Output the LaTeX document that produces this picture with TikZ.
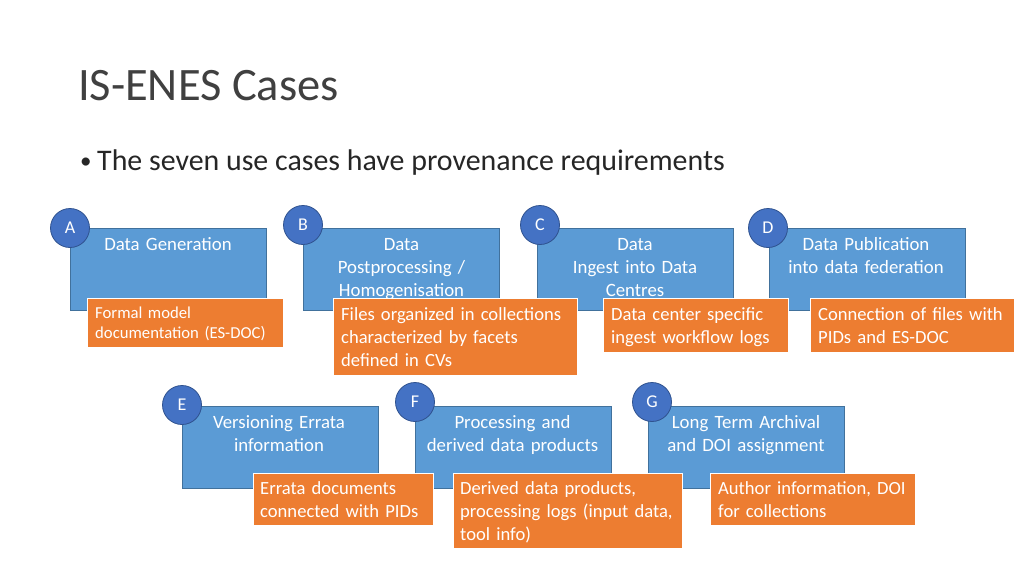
\documentclass[tikz,border=0pt]{standalone}
\usepackage{fontspec}
\setmainfont{Carlito}
\usetikzlibrary{calc}
\definecolor{boxblue}{HTML}{5B9BD5}
\definecolor{boxblueline}{HTML}{41719C}
\definecolor{circblue}{HTML}{4472C4}
\definecolor{circline}{HTML}{2F528F}
\definecolor{boxorange}{HTML}{ED7D31}
\definecolor{titlegray}{HTML}{404040}
\definecolor{bodytext}{HTML}{262626}
\begin{document}
\begin{tikzpicture}[x=1pt,y=-1pt,
 bluebox/.style={draw=boxblueline, line width=0.9pt, fill=boxblue, anchor=north west, inner sep=0, minimum width=196pt, minimum height=82pt},
 bluetext/.style={text=white, font=\fontsize{18.8}{23}\selectfont, align=center, text width=220pt, anchor=base, inner sep=0},
 orangebox/.style={draw=white, line width=1.2pt, fill=boxorange, anchor=north west, inner sep=0},
 orangetext/.style={text=white, font=\fontsize{18.6}{23}\selectfont, align=left, text width=240pt, anchor=base west, inner sep=0},
 smallorangetext/.style={orangetext, font=\fontsize{16.7}{20}\selectfont},
 badge/.style={circle, draw=circline, line width=0.8pt, fill=circblue, minimum size=39pt, inner sep=0, text=white, font=\fontsize{18}{20}\selectfont},
]
\useasboundingbox[fill=white] (0,0) rectangle (1024,576);

% title and bullet
\node[anchor=base west, inner sep=0, font=\fontsize{46.5}{56}\selectfont, text=titlegray] (title) at (78,100) {IS-ENES Cases};
\node[anchor=base west, inner sep=0, font=\fontsize{23}{28}\selectfont, text=bodytext] (bul) at (80,168) {\textbullet};
\node[anchor=base west, inner sep=0, font=\fontsize{29.9}{36}\selectfont, text=bodytext] (lead) at (97,170) {The seven use cases have provenance requirements};

% blue boxes
\node[bluebox] (bA) at (70,228) {};
\node[bluebox] (bB) at (303,228) {};
\node[bluebox] (bC) at (537,228) {};
\node[bluebox] (bD) at (769,228) {};
\node[bluebox] (bE) at (182,406) {};
\node[bluebox] (bF) at (415,406) {};
\node[bluebox] (bG) at (648,406) {};

% badges
\node[badge] (cA) at (70,228) {A};
\node[badge] (cB) at (303,225) {B};
\node[badge] (cC) at (540,225) {C};
\node[badge] (cD) at (768,228) {D};
\node[badge] (cE) at (182,405) {E};
\node[badge] (cF) at (415,402) {F};
\node[badge] (cG) at (652,402) {G};

% blue texts
\node[bluetext] (tA) at (168,250) {Data Generation};
\node[bluetext] (tB) at (401.5,250) {Data\\Postprocessing /\\Homogenisation};
\node[bluetext] (tC) at (635,250) {Data\\Ingest into Data\\Centres};
\node[bluetext] (tD) at (866,250) {Data Publication\\into data federation};
\node[bluetext] (tE) at (279,428) {Versioning Errata\\information};
\node[bluetext] (tF) at (512.5,428) {Processing and\\derived data products};
\node[bluetext] (tG) at (746,428) {Long Term Archival\\and DOI assignment};

% orange boxes
\node[orangebox, minimum width=196pt, minimum height=49pt] (oA) at (87,298) {};
\node[orangebox, minimum width=244pt, minimum height=77pt] (oB) at (333,298) {};
\node[orangebox, minimum width=185pt, minimum height=54pt] (oC) at (603,298) {};
\node[orangebox, minimum width=204pt, minimum height=54pt] (oD) at (810,298) {};
\node[orangebox, minimum width=180pt, minimum height=52pt] (oE) at (253,473) {};
\node[orangebox, minimum width=229pt, minimum height=75pt] (oF) at (453,473) {};
\node[orangebox, minimum width=205pt, minimum height=52pt] (oG) at (710,473) {};

% orange texts
\node[smallorangetext] (uA) at (95,318.5) {Formal model\\documentation (ES-DOC)};
\node[orangetext] (uB) at (341,320) {Files organized in collections\\characterized by facets\\defined in CVs};
\node[orangetext] (uC) at (611,320) {Data center specific\\ingest workflow logs};
\node[orangetext] (uD) at (818,320) {Connection of files with\\PIDs and ES-DOC};
\node[orangetext] (uE) at (260,494) {Errata documents\\connected with PIDs};
\node[orangetext] (uF) at (460,494) {Derived data products,\\processing logs (input data,\\tool info)};
\node[orangetext] (uG) at (718,494) {Author information, DOI\\for collections};
\end{tikzpicture}
\end{document}
